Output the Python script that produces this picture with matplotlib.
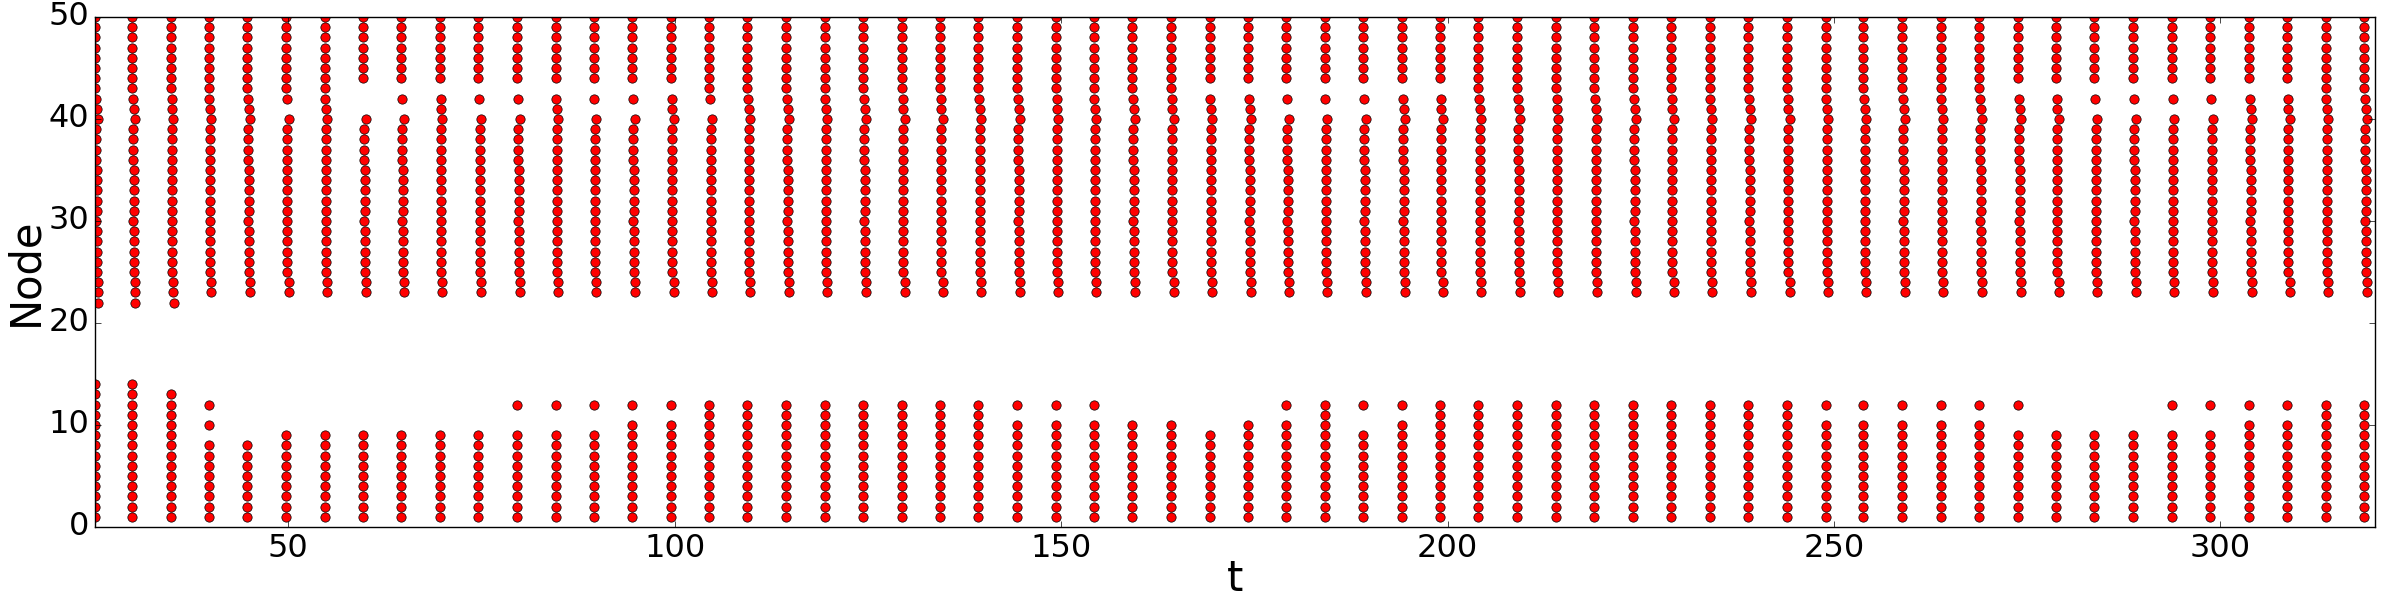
import numpy as np
import matplotlib
matplotlib.use("Agg")
import matplotlib.pyplot as plt

# burst times (one column of spikes per burst)
burst_t = [25.0, 29.8, 34.8, 39.7, 44.7, 49.7, 54.7, 59.7, 64.6, 69.6,
           74.6, 79.6, 84.6, 89.5, 94.5, 99.5, 104.5, 109.4, 114.4, 119.4,
           124.4, 129.4, 134.3, 139.3, 144.3, 149.3, 154.2, 159.2, 164.2, 169.2,
           174.2, 179.1, 184.1, 189.1, 194.1, 199.0, 204.0, 209.0, 214.0, 219.0,
           224.0, 228.9, 233.9, 238.9, 243.9, 248.9, 253.8, 258.8, 263.8, 268.8,
           273.8, 278.7, 283.7, 288.7, 293.7, 298.7, 303.7, 308.6, 313.6, 318.6]

# upper group: lowest firing node, and nodes that stay silent
top_low = [22, 22, 22] + [23] * 57
top_missing = [[], [], [], [], [], [41], [], [41, 42, 43], [41, 43], [43],
               [41, 43], [41, 43], [43], [41, 43], [41, 43], [43], [41], [], [], [],
               [], [], [], [], [], [], [], [], [], [43],
               [43], [41, 43], [41, 43], [41, 43], [43], [43], [], [], [], [],
               [], [], [], [], [], [], [], [], [], [],
               [43], [43], [41, 43], [41, 43], [41, 43], [41, 43], [43], [43], [], []]

# lower group: nodes 1..bot_high fire, plus a few isolated nodes
bot_high = [14, 14, 13, 8, 8, 9, 9, 9, 9, 9,
            9, 9, 9, 9, 10, 10, 12, 12, 12, 12,
            12, 12, 12, 12, 10, 10, 10, 10, 10, 9,
            10, 10, 12, 9, 10, 12, 12, 12, 12, 12,
            12, 12, 12, 12, 12, 10, 10, 10, 10, 10,
            9, 9, 9, 9, 9, 9, 10, 10, 12, 12]
bot_extra = [[], [], [], [10, 12], [], [], [], [], [], [],
             [], [12], [12], [12], [12], [12], [], [], [], [],
             [], [], [], [], [12], [12], [12], [], [], [],
             [], [12], [], [12], [12], [], [], [], [], [],
             [], [], [], [], [], [12], [12], [12], [12], [12],
             [12], [], [], [], [12], [12], [12], [12], [], []]

# small spike delay inside a burst for the upper nodes 22..50
top_lag = [0.4, 0.35, 0.35, 0.2, 0.2, 0.2, 0.2, 0.2, 0.15, 0.2,
           0.2, 0.2, 0.2, 0.2, 0.15, 0.15, 0.15, 0.15, 0.35, 0.2,
           0.1, 0.0, 0.0, 0.0, 0.0, 0.0, 0.0, 0.0, 0.0]

t_pts = []
n_pts = []
for i, t in enumerate(burst_t):
    for n in range(top_low[i], 51):
        if n in top_missing[i]:
            continue
        t_pts.append(t + top_lag[n - 22])
        n_pts.append(n)
    for n in list(range(1, bot_high[i] + 1)) + bot_extra[i]:
        t_pts.append(t)
        n_pts.append(n)

plt.style.use('classic')
fig = plt.figure(figsize=(24, 6), dpi=100, facecolor='white')
ax = fig.add_axes([0.0396, 0.1217, 0.95, 0.85])

ax.plot(t_pts, n_pts, 'o', color='red', markeredgecolor='black',
        markeredgewidth=0.5, markersize=6.7)

ax.set_xlim(25, 320)
ax.set_ylim(0, 50)
ax.set_xticks([50, 100, 150, 200, 250, 300])
ax.set_yticks([0, 10, 20, 30, 40, 50])
ax.tick_params(labelsize=23, pad=4)
ax.set_xlabel('t', fontsize=30)
ax.set_ylabel('Node', fontsize=30)
ax.yaxis.set_label_coords(-0.0215, 0.5)
ax.xaxis.set_label_coords(0.5, -0.06)

fig.savefig('out.png', dpi=100, facecolor='white')
